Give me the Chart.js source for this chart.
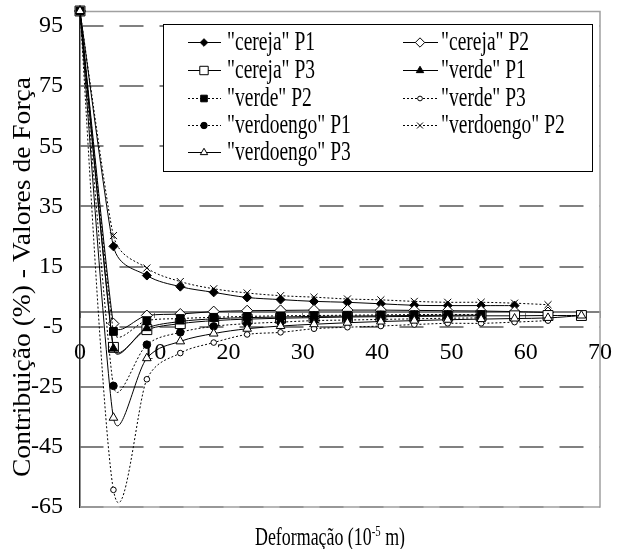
<!DOCTYPE html>
<html>
<head>
<meta charset="utf-8">
<script src="https://cdn.jsdelivr.net/npm/chart.js@4.4.1/dist/chart.umd.min.js"></script>
<style>
html,body{margin:0;padding:0;background:#fff;}
#wrap{width:621px;height:549px;position:relative;}
</style>
</head>
<body>
<div id="wrap"><canvas id="c" width="621" height="549"></canvas></div>
<script>
// ---------- data ----------
const xValues = [0, 4.5, 9, 13.5, 18, 22.5, 27, 31.5, 36, 40.5, 45, 49.5, 54, 58.5, 63, 67.5];
const seriesNames = ['"cereja" P1', '"cereja" P2', '"cereja" P3', '"verde" P1', '"verde" P2', '"verde" P3', '"verdoengo" P1', '"verdoengo" P2', '"verdoengo" P3'];
const cerejaP1    = [100, 21.7, 12.0, 8.3, 6.4, 4.7, 4.0, 3.4, 3.1, 2.6, 2.1, 2.0, 2.0, 2.0];
const cerejaP2    = [100, -4.0, -1.3, -0.8, 0.0, 0.3, 0.4, 0.5, 0.5, 0.5, 0.4, 0.3, 0.2, 0.0, -0.3];
const cerejaP3    = [100, -11.9, -6.0, -4.0, -3.0, -2.5, -2.2, -2.0, -1.8, -1.7, -1.6, -1.5, -1.4, -1.4, -1.3, -1.3];
const verdeP1     = [100, -12.3, -5.5, -3.3, -2.4, -2.0, -1.8, -1.6, -1.5, -1.4, -1.3, -1.2, -1.2];
const verdeP2     = [100, -6.6, -3.0, -2.3, -1.9, -1.6, -1.4, -1.3, -1.2, -1.1, -1.0, -1.0, -1.0];
const verdeP3     = [100, -59.3, -22.5, -13.8, -10.3, -7.6, -6.9, -5.7, -5.2, -4.8, -4.3, -3.9, -3.9, -3.5, -3.0];
const verdoengoP1 = [100, -24.7, -11.0, -6.9, -4.9, -4.0, -3.5, -3.0, -2.8, -2.6, -2.4, -2.2, -2.1];
const verdoengoP2 = [100, 25.3, 14.5, 10.0, 7.6, 6.2, 5.3, 4.8, 4.2, 3.9, 3.4, 3.1, 3.1, 2.8, 2.3];
const verdoengoP3 = [100, -35.3, -15.5, -9.9, -7.3, -5.7, -4.8, -4.2, -3.7, -3.3, -3.0, -2.7, -2.5, -2.3, -2.1, -1.3];
const seriesValues = [cerejaP1, cerejaP2, cerejaP3, verdeP1, verdeP2, verdeP3, verdoengoP1, verdoengoP2, verdoengoP3];
const yTicks = [-65, -45, -25, -5, 15, 35, 55, 75, 95];
const xTicks = [0, 10, 20, 30, 40, 50, 60, 70];
const yTitle = 'Contribuição (%) - Valores de Força';
const xTitleMain = 'Deformação (10';
const xTitleSup = '-5';
const xTitleEnd = ' m)';

// ---------- styles ----------
const seriesStyles = [
  {dash: [],     point: 'rectRot',  r: 4.5, fill: '#000'},
  {dash: [],     point: 'rectRot',  r: 5.5, fill: '#fff'},
  {dash: [],     point: 'rect',     r: 7,   fill: '#fff'},
  {dash: [],     point: 'triangle', r: 5,   fill: '#000'},
  {dash: [2, 2], point: 'rect',     r: 5.5, fill: '#000'},
  {dash: [2, 2], point: 'circle',   r: 2.8, fill: '#fff'},
  {dash: [2, 2], point: 'circle',   r: 3.8, fill: '#000'},
  {dash: [2, 2], point: 'crossRot', r: 5,   fill: '#000'},
  {dash: [],     point: 'triangle', r: 5,   fill: '#fff'}
];
const FONT = '"Liberation Serif", "Times New Roman", serif';

function drawMarker(ctx, st, x, y, r) {
  ctx.save();
  ctx.setLineDash([]);
  ctx.lineWidth = 1;
  ctx.strokeStyle = '#000';
  ctx.fillStyle = st.fill;
  if (Chart.helpers && Chart.helpers.drawPoint) {
    Chart.helpers.drawPoint(ctx, {pointStyle: st.point, radius: r, rotation: 0, borderWidth: 1}, x, y);
  }
  ctx.restore();
}

// Excel-like smoothing of the line between the library's own points
const smoothPlugin = {
  id: 'excelSmooth',
  beforeDatasetsDraw(chart) {
    chart.getSortedVisibleDatasetMetas().forEach(meta => {
      const pts = meta.data, n = pts.length;
      for (let i = 0; i < n; i++) {
        const p = pts[i], a = pts[i - 1] || p, b = pts[i + 1] || p;
        const d02 = Math.hypot(b.x - a.x, b.y - a.y);
        if (!d02) { p.cp1x = p.cp2x = p.x; p.cp1y = p.cp2y = p.y; continue; }
        const d01 = Math.hypot(p.x - a.x, p.y - a.y);
        const d12 = Math.hypot(b.x - p.x, b.y - p.y);
        let arm = d02 / 6;
        if (i > 0 && i < n - 1) arm = Math.min(arm, d01 / 2, d12 / 2);
        const ux = (b.x - a.x) / d02, uy = (b.y - a.y) / d02;
        p.cp1x = p.x - arm * ux; p.cp1y = p.y - arm * uy;
        p.cp2x = p.x + arm * ux; p.cp2y = p.y + arm * uy;
      }
      if (meta.dataset) { meta.dataset._pointsUpdated = true; meta.dataset._path = undefined; }
    });
  }
};

const decorPlugin = {
  id: 'decor',
  beforeDatasetsDraw(chart) {
    const ctx = chart.ctx, a = chart.chartArea;
    ctx.save();
    ctx.strokeStyle = '#a0a0a0';
    ctx.lineWidth = 1.5;
    ctx.beginPath();
    ctx.moveTo(a.left, a.top + 0.5); ctx.lineTo(a.right, a.top + 0.5);
    ctx.lineTo(a.right, a.bottom); ctx.lineTo(a.left, a.bottom);
    ctx.stroke();
    ctx.restore();
  },
  afterDraw(chart) {
    const ctx = chart.ctx;
    ctx.save();
    // legend
    const bx = 163, by = 24, bw = 429, bh = 147;
    ctx.fillStyle = '#fff';
    ctx.fillRect(bx, by, bw, bh);
    ctx.strokeStyle = '#000';
    ctx.lineWidth = 1;
    ctx.strokeRect(bx + 0.5, by + 0.5, bw, bh);
    ctx.font = '27px ' + FONT;
    const sx = 88 / ctx.measureText('"cereja" P1').width;
    const rows = [42, 70, 98, 125, 152];
    const cols = [{l1: 188, l2: 221, m: 204, t: 227}, {l1: 403, l2: 438, m: 420, t: 441}];
    seriesNames.forEach((name, i) => {
      const st = seriesStyles[i];
      const c = cols[i % 2], y = rows[Math.floor(i / 2)];
      ctx.save();
      ctx.strokeStyle = '#000';
      ctx.lineWidth = 1;
      ctx.setLineDash(st.dash);
      ctx.beginPath(); ctx.moveTo(c.l1, y + 0.5); ctx.lineTo(c.l2, y + 0.5); ctx.stroke();
      ctx.restore();
      drawMarker(ctx, st, c.m, y + 0.5, st.r * 0.85);
      ctx.save();
      ctx.fillStyle = '#000';
      ctx.font = '27px ' + FONT;
      ctx.textBaseline = 'middle';
      ctx.translate(c.t, y + 1);
      ctx.scale(sx, 1);
      ctx.fillText(name, 0, 0);
      ctx.restore();
    });
    // y title
    ctx.save();
    ctx.fillStyle = '#000';
    ctx.font = '26px ' + FONT;
    const yw = ctx.measureText(yTitle).width;
    ctx.translate(23, 277);
    ctx.rotate(-Math.PI / 2);
    ctx.scale(400 / yw, 1);
    ctx.textAlign = 'center';
    ctx.textBaseline = 'middle';
    ctx.fillText(yTitle, 0, 0);
    ctx.restore();
    // x title
    ctx.save();
    ctx.fillStyle = '#000';
    ctx.font = '25px ' + FONT;
    const w1 = ctx.measureText(xTitleMain).width;
    const w3 = ctx.measureText(xTitleEnd).width;
    ctx.font = '15px ' + FONT;
    const w2 = ctx.measureText(xTitleSup).width;
    const k = 150 / (w1 + w2 + w3);
    const x0 = 330 - 75;
    ctx.textBaseline = 'alphabetic';
    ctx.translate(x0, 545);
    ctx.scale(k, 1);
    ctx.font = '25px ' + FONT;
    ctx.fillText(xTitleMain, 0, 0);
    ctx.font = '15px ' + FONT;
    ctx.fillText(xTitleSup, w1, -9);
    ctx.font = '25px ' + FONT;
    ctx.fillText(xTitleEnd, w1 + w2, 0);
    ctx.restore();
    ctx.restore();
  }
};

const datasets = seriesValues.map((vals, i) => ({
  label: seriesNames[i],
  data: vals.map((y, j) => ({x: xValues[j], y: y})),
  borderColor: '#000',
  borderWidth: 1,
  borderDash: seriesStyles[i].dash,
  tension: 0.4,
  cubicInterpolationMode: 'default',
  pointStyle: seriesStyles[i].point,
  pointRadius: seriesStyles[i].r,
  pointBackgroundColor: seriesStyles[i].fill,
  pointBorderColor: '#000',
  pointBorderWidth: 1,
  fill: false,
  clip: false,
  order: seriesValues.length - i
}));

new Chart(document.getElementById('c'), {
  type: 'line',
  data: {datasets: datasets},
  options: {
    responsive: false,
    animation: false,
    devicePixelRatio: 1,
    layout: {padding: {top: 11, right: 21, bottom: 42, left: 0}},
    plugins: {legend: {display: false}, title: {display: false}, tooltip: {enabled: false}},
    scales: {
      x: {
        type: 'linear', min: 0, max: 70,
        position: {y: 0},
        afterBuildTicks: s => { s.ticks = xTicks.map(v => ({value: v})); },
        afterFit: s => { s.paddingLeft = 0; s.paddingRight = 0; s.paddingTop = 0; s.paddingBottom = 0; },
        grid: {display: true, drawOnChartArea: false, drawTicks: true, tickLength: 5, color: '#808080', tickColor: '#808080'},
        border: {display: true, color: '#808080', width: 2},
        ticks: {padding: 22, color: '#000', font: {family: FONT, size: 24}, maxRotation: 0, autoSkip: false}
      },
      y: {
        type: 'linear', min: -65, max: 100,
        afterBuildTicks: s => { s.ticks = yTicks.map(v => ({value: v})); },
        afterFit: s => { s.width = 80; s.paddingTop = 0; s.paddingBottom = 0; s.paddingLeft = 0; s.paddingRight = 0; },
        grid: {color: '#808080', lineWidth: 2, drawTicks: false},
        border: {display: true, color: '#222', width: 1.5, dash: [24, 16], dashOffset: 1},
        ticks: {padding: 17, color: '#000', font: {family: FONT, size: 24}, autoSkip: false}
      }
    }
  },
  plugins: [smoothPlugin, decorPlugin]
});
</script>
</body>
</html>
